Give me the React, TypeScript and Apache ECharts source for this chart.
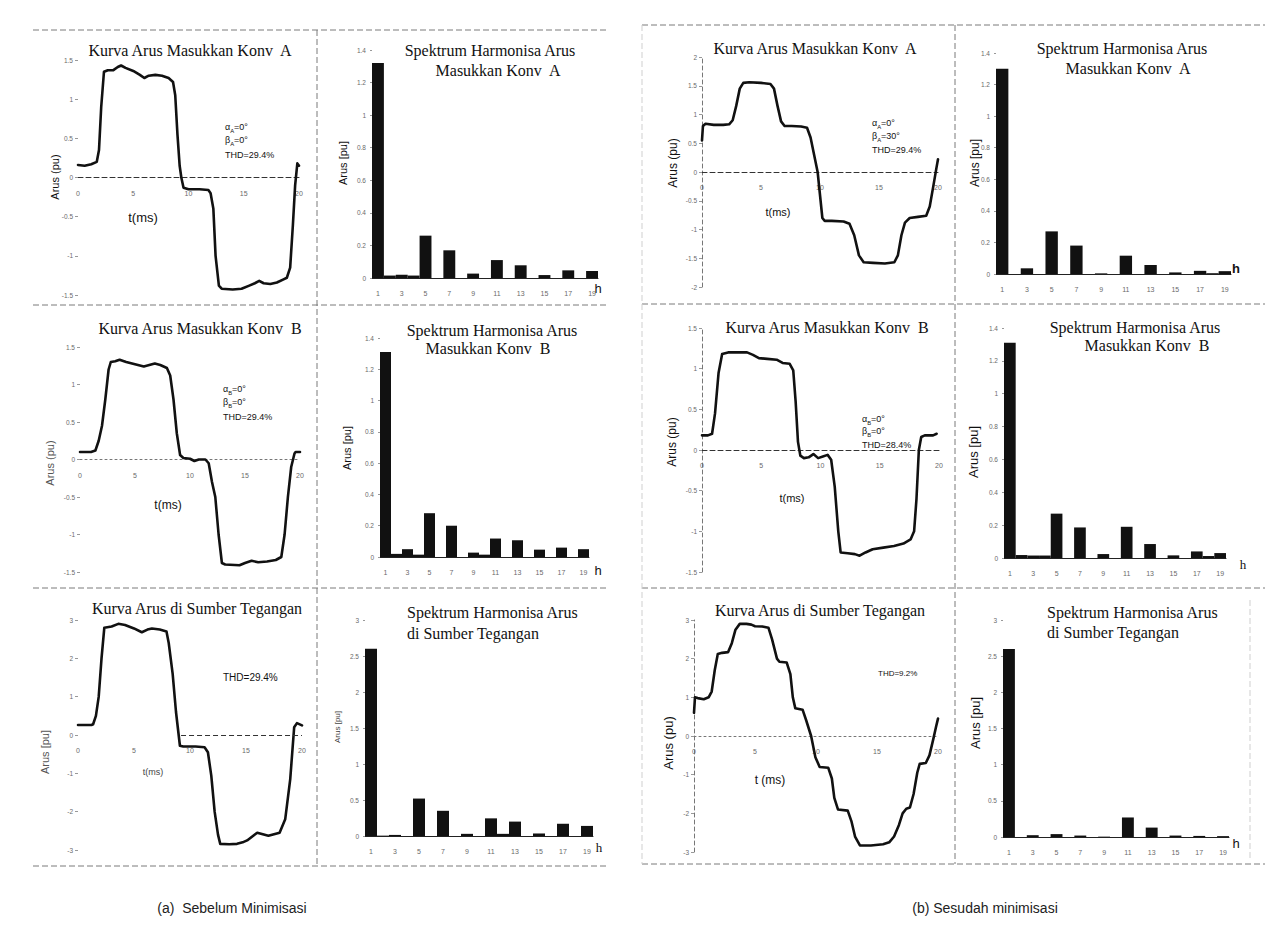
import { useEffect, useRef } from "react";
import * as echarts from "echarts";

// Harmonic orders on the spectrum axes (only odd orders are labelled)
const HARMONICS = ["1", "2", "3", "4", "5", "6", "7", "8", "9", "10", "11", "12", "13", "14", "15", "16", "17", "18", "19"];
const TIME_TICKS = [0, 5, 10, 15, 20];

// Waveforms: [t (ms), arus (pu)]
const iaBefore: [number, number][] = [
  [0, 0.16], [0.6, 0.15], [1.2, 0.17], [1.7, 0.2], [1.9, 0.35], [2.1, 0.9], [2.35, 1.35], [2.7, 1.37], [3.2, 1.37],
  [3.6, 1.41], [3.9, 1.43], [4.3, 1.4], [5.0, 1.36], [5.6, 1.31], [6.0, 1.27], [6.4, 1.3], [7.0, 1.31], [7.6, 1.3],
  [8.2, 1.27], [8.6, 1.22], [8.8, 1.05], [9.0, 0.55], [9.2, 0.15], [9.35, 0.0], [9.55, -0.13], [10.0, -0.15],
  [11.0, -0.15], [11.8, -0.16], [12.0, -0.2], [12.25, -0.4], [12.45, -1.0], [12.75, -1.38], [13.0, -1.42],
  [14.0, -1.43], [14.8, -1.42], [15.5, -1.38], [16.0, -1.35], [16.4, -1.32], [16.8, -1.35], [17.4, -1.36],
  [18.0, -1.34], [18.6, -1.3], [18.9, -1.28], [19.2, -1.15], [19.45, -0.6], [19.65, -0.1], [19.85, 0.18], [20, 0.15],
];
const ibBefore: [number, number][] = [
  [0, 0.1], [1.0, 0.1], [1.4, 0.12], [1.7, 0.25], [2.0, 0.45], [2.3, 0.8], [2.6, 1.2], [2.8, 1.3], [3.2, 1.31],
  [3.6, 1.33], [4.2, 1.3], [5.0, 1.27], [5.8, 1.24], [6.3, 1.26], [6.8, 1.28], [7.3, 1.26], [7.9, 1.22], [8.2, 1.12],
  [8.5, 0.8], [8.8, 0.35], [9.1, 0.06], [9.4, 0.02], [10.0, 0.01], [10.4, -0.02], [10.8, 0.0], [11.4, 0.0],
  [11.7, -0.05], [12.0, -0.3], [12.3, -0.5], [12.6, -1.0], [12.9, -1.38], [13.2, -1.4], [14.5, -1.41], [15.0, -1.38],
  [15.6, -1.35], [16.2, -1.37], [17.0, -1.36], [17.8, -1.34], [18.3, -1.3], [18.6, -1.0], [18.9, -0.5], [19.2, -0.1],
  [19.5, 0.08], [19.6, 0.1], [20, 0.1],
];
const isBefore: [number, number][] = [
  [0, 0.26], [1.2, 0.26], [1.35, 0.28], [1.6, 0.5], [1.85, 1.0], [2.1, 2.0], [2.35, 2.8], [3.0, 2.83], [3.6, 2.9],
  [4.2, 2.87], [5.0, 2.78], [5.7, 2.68], [6.2, 2.75], [6.6, 2.78], [7.3, 2.75], [7.9, 2.7], [8.1, 2.4], [8.45, 1.6],
  [8.75, 0.6], [9.1, -0.28], [9.4, -0.3], [10.5, -0.3], [11.3, -0.32], [11.6, -0.45], [11.9, -1.06], [12.2, -2.0],
  [12.5, -2.6], [12.7, -2.84], [13.5, -2.85], [14.2, -2.84], [14.7, -2.8], [15.1, -2.75], [16.0, -2.55],
  [17.0, -2.63], [18.0, -2.55], [18.5, -2.2], [18.95, -1.15], [19.3, 0.2], [19.55, 0.31], [20, 0.25],
];
const iaAfter: [number, number][] = [
  [0, 0.55], [0.08, 0.8], [0.3, 0.84], [1.0, 0.82], [1.8, 0.82], [2.3, 0.83], [2.6, 0.9], [2.9, 1.15], [3.2, 1.45],
  [3.5, 1.55], [4.0, 1.56], [5.0, 1.55], [5.8, 1.53], [6.1, 1.45], [6.4, 1.15], [6.7, 0.88], [7.0, 0.8], [7.6, 0.8],
  [8.4, 0.79], [8.9, 0.77], [9.2, 0.6], [9.5, 0.3], [9.8, 0.0], [10.0, -0.4], [10.2, -0.8], [10.4, -0.85],
  [11.0, -0.85], [12.0, -0.86], [12.5, -0.9], [12.9, -1.1], [13.3, -1.45], [13.7, -1.57], [14.5, -1.58],
  [15.5, -1.59], [16.3, -1.57], [16.6, -1.45], [16.9, -1.1], [17.2, -0.88], [17.6, -0.8], [18.3, -0.78],
  [19.0, -0.76], [19.3, -0.6], [19.6, -0.25], [19.85, 0.05], [20, 0.22],
];
const ibAfter: [number, number][] = [
  [0, 0.18], [0.5, 0.18], [0.85, 0.2], [1.1, 0.45], [1.4, 0.95], [1.7, 1.18], [2.2, 1.2], [3.0, 1.2], [3.8, 1.2],
  [4.3, 1.17], [4.8, 1.13], [5.5, 1.12], [6.3, 1.11], [6.8, 1.07], [7.4, 1.06], [7.7, 0.98], [7.9, 0.6], [8.1, 0.1],
  [8.3, -0.07], [8.6, -0.1], [9.0, -0.09], [9.4, -0.05], [9.8, -0.1], [10.2, -0.08], [10.6, -0.06], [10.9, -0.12],
  [11.2, -0.45], [11.5, -1.0], [11.7, -1.26], [12.3, -1.27], [12.9, -1.28], [13.3, -1.3], [13.8, -1.26],
  [14.4, -1.22], [15.3, -1.2], [16.2, -1.18], [17.0, -1.15], [17.6, -1.1], [17.9, -1.0], [18.1, -0.6], [18.3, 0.0],
  [18.5, 0.16], [18.8, 0.18], [19.5, 0.18], [19.8, 0.2],
];
const isAfter: [number, number][] = [
  [0, 0.6], [0.08, 1.0], [0.3, 0.98], [0.8, 0.95], [1.2, 1.0], [1.45, 1.15], [1.7, 1.7], [1.95, 2.12], [2.3, 2.15],
  [2.8, 2.17], [3.1, 2.4], [3.4, 2.75], [3.75, 2.9], [4.3, 2.9], [4.7, 2.88], [5.0, 2.84], [5.6, 2.83], [6.1, 2.8],
  [6.4, 2.5], [6.8, 2.0], [7.0, 1.92], [7.6, 1.9], [7.9, 1.6], [8.1, 1.0], [8.3, 0.72], [8.9, 0.68], [9.2, 0.4],
  [9.6, 0.0], [9.95, -0.55], [10.3, -0.8], [11.0, -0.82], [11.3, -1.1], [11.5, -1.6], [11.8, -1.9], [12.6, -1.93],
  [12.9, -2.2], [13.2, -2.6], [13.6, -2.83], [14.5, -2.83], [15.5, -2.8], [16.0, -2.75], [16.4, -2.6], [16.8, -2.3],
  [17.1, -2.0], [17.4, -1.88], [17.7, -1.85], [18.0, -1.5], [18.3, -0.95], [18.5, -0.72], [19.0, -0.7],
  [19.3, -0.5], [19.6, -0.1], [19.85, 0.25], [20, 0.45],
];

// Harmonic spectra, orders 1..19 (pu)
const specIaBefore = [1.32, 0.015, 0.02, 0.015, 0.26, 0, 0.17, 0, 0.027, 0, 0.11, 0, 0.078, 0, 0.018, 0, 0.047, 0, 0.043];
const specIbBefore = [1.31, 0.02, 0.05, 0.015, 0.28, 0, 0.2, 0, 0.028, 0.015, 0.118, 0, 0.107, 0, 0.047, 0, 0.06, 0, 0.05];
const specIsBefore = [2.6, 0.005, 0.015, 0, 0.52, 0, 0.35, 0, 0.03, 0, 0.245, 0.03, 0.2, 0, 0.035, 0, 0.17, 0, 0.14];
const specIaAfter = [1.3, 0, 0.036, 0, 0.27, 0, 0.18, 0, 0.004, 0, 0.116, 0, 0.057, 0, 0.01, 0, 0.02, 0.005, 0.018];
const specIbAfter = [1.31, 0.018, 0.015, 0.015, 0.27, 0, 0.186, 0, 0.024, 0, 0.19, 0, 0.085, 0, 0.016, 0, 0.04, 0.012, 0.03];
const specIsAfter = [2.6, 0, 0.025, 0, 0.04, 0, 0.02, 0, 0.005, 0, 0.27, 0, 0.13, 0, 0.02, 0, 0.015, 0, 0.012];

const SERIF = "'Liberation Serif', 'Times New Roman', serif";
const SANS = "'Liberation Sans', Arial, sans-serif";
const INK = "#111";
const TICK = "#6a6a6a";

type Box = { left: number; top: number; width: number; height: number };

interface WavePanel {
  box: Box;
  data: [number, number][];
  yMin: number;
  yMax: number;
  yStep: number;
  yLine: boolean;
  zeroStyle: any;
  zeroFrom?: number; // zero reference drawn only from this time on
}
interface BarPanel {
  box: Box;
  data: number[];
  yMax: number;
  yStep: number;
}

const ZERO_DASH = { color: "#333", width: 1, type: [5, 3] as number[] };
const ZERO_DOT = { color: "#777", width: 1, type: [2, 3] as number[] };

const wavePanels: WavePanel[] = [
  { box: { left: 78, top: 60, width: 221, height: 235 }, data: iaBefore, yMin: -1.5, yMax: 1.5, yStep: 0.5, yLine: false, zeroStyle: ZERO_DASH },
  { box: { left: 80, top: 347, width: 220, height: 225 }, data: ibBefore, yMin: -1.5, yMax: 1.5, yStep: 0.5, yLine: false, zeroStyle: ZERO_DOT },
  { box: { left: 78, top: 620, width: 224, height: 230 }, data: isBefore, yMin: -3, yMax: 3, yStep: 1, yLine: false, zeroStyle: ZERO_DASH, zeroFrom: 9.2 },
  { box: { left: 702, top: 57, width: 236, height: 230 }, data: iaAfter, yMin: -2, yMax: 2, yStep: 0.5, yLine: true, zeroStyle: ZERO_DASH },
  { box: { left: 702, top: 328, width: 237, height: 244 }, data: ibAfter, yMin: -1.5, yMax: 1.5, yStep: 0.5, yLine: true, zeroStyle: ZERO_DASH },
  { box: { left: 694, top: 620, width: 244, height: 232 }, data: isAfter, yMin: -3, yMax: 3, yStep: 1, yLine: true, zeroStyle: ZERO_DOT },
];

const barPanels: BarPanel[] = [
  { box: { left: 372, top: 50, width: 226, height: 228 }, data: specIaBefore, yMax: 1.4, yStep: 0.2 },
  { box: { left: 380, top: 338, width: 209, height: 219 }, data: specIbBefore, yMax: 1.4, yStep: 0.2 },
  { box: { left: 365, top: 620, width: 228, height: 216 }, data: specIsBefore, yMax: 3, yStep: 0.5 },
  { box: { left: 996, top: 53, width: 235, height: 221 }, data: specIaAfter, yMax: 1.4, yStep: 0.2 },
  { box: { left: 1004, top: 328, width: 222, height: 230 }, data: specIbAfter, yMax: 1.4, yStep: 0.2 },
  { box: { left: 1003, top: 620, width: 226, height: 217 }, data: specIsAfter, yMax: 3, yStep: 0.5 },
];

function text(x: number, y: number, s: string, size: number, family: string, opts: any = {}) {
  return {
    type: "text",
    x,
    y,
    rotation: opts.rotation || 0,
    silent: true,
    style: {
      text: s,
      fill: opts.color || INK,
      fontSize: size,
      fontFamily: family,
      fontWeight: opts.weight || "normal",
      align: opts.align || "center",
      verticalAlign: "middle",
    },
  };
}

function vname(x: number, y: number, s: string, size: number, color = INK) {
  return text(x, y, s, size, SANS, { rotation: Math.PI / 2, color });
}

function angle(x: number, y: number, greek: string, sub: string, value: string, size: number) {
  return {
    type: "text",
    x,
    y,
    silent: true,
    style: {
      text: `{g|${greek}}{s|${sub}}{g|=${value}}`,
      align: "left",
      verticalAlign: "middle",
      rich: {
        g: { fontSize: size, fontFamily: SANS, fill: INK, lineHeight: size + 3, verticalAlign: "top" },
        s: { fontSize: size * 0.65, fontFamily: SANS, fill: INK, lineHeight: size + 3, verticalAlign: "bottom" },
      },
    },
  };
}

function dash(x1: number, y1: number, x2: number, y2: number, color = "#7a7a7a") {
  return {
    type: "line",
    silent: true,
    shape: { x1, y1, x2, y2 },
    style: { stroke: color, lineWidth: 1, lineDash: [6, 3] },
  };
}

function buildOption() {
  const grid: any[] = [];
  const xAxis: any[] = [];
  const yAxis: any[] = [];
  const series: any[] = [];

  wavePanels.forEach((p) => {
    const i = grid.length;
    // lift the time axis (line and labels) up to the zero level of the current axis
    const zeroLift = (p.box.height * (0 - p.yMin)) / (p.yMax - p.yMin);
    grid.push({ ...p.box, containLabel: false });
    xAxis.push({
      gridIndex: i,
      type: "value",
      position: "bottom",
      offset: -zeroLift,
      min: TIME_TICKS[0],
      max: TIME_TICKS[TIME_TICKS.length - 1],
      interval: TIME_TICKS[1] - TIME_TICKS[0],
      axisLine: { show: p.zeroFrom === undefined, onZero: false, lineStyle: p.zeroStyle },
      axisTick: { show: false },
      axisLabel: { fontSize: 7, color: TICK, margin: 12, fontFamily: SANS },
      splitLine: { show: false },
    });
    yAxis.push({
      gridIndex: i,
      type: "value",
      min: p.yMin,
      max: p.yMax,
      interval: p.yStep,
      axisLine: { show: p.yLine, onZero: false, lineStyle: { color: "#777", width: 1, type: [4, 3] } },
      axisTick: { show: true, length: 3, lineStyle: { color: "#999" } },
      axisLabel: { fontSize: 6.5, color: TICK, margin: 5, fontFamily: SANS },
      splitLine: { show: false },
    });
    const s: any = {
      type: "line",
      xAxisIndex: i,
      yAxisIndex: i,
      data: p.data,
      showSymbol: false,
      symbol: "none",
      silent: true,
      lineStyle: { color: INK, width: 2.6, join: "round", cap: "round" },
    };
    if (p.zeroFrom !== undefined) {
      s.markLine = {
        silent: true,
        symbol: "none",
        label: { show: false },
        lineStyle: p.zeroStyle,
        data: [[{ coord: [p.zeroFrom, 0] }, { coord: [TIME_TICKS[TIME_TICKS.length - 1], 0] }]],
      };
    }
    series.push(s);
  });

  barPanels.forEach((p) => {
    const i = grid.length;
    grid.push({ ...p.box, containLabel: false });
    xAxis.push({
      gridIndex: i,
      type: "category",
      data: HARMONICS,
      axisLine: { lineStyle: { color: "#222", width: 1 } },
      axisTick: { show: false },
      axisLabel: { interval: 1, fontSize: 7, color: TICK, margin: 12, fontFamily: SANS },
      splitLine: { show: false },
    });
    yAxis.push({
      gridIndex: i,
      type: "value",
      min: 0,
      max: p.yMax,
      interval: p.yStep,
      axisLine: { show: false },
      axisTick: { show: true, length: 2, lineStyle: { color: "#999" } },
      axisLabel: { fontSize: 6.5, color: TICK, margin: 6, fontFamily: SANS },
      splitLine: { show: false },
    });
    series.push({
      type: "bar",
      xAxisIndex: i,
      yAxisIndex: i,
      data: p.data,
      barWidth: "100%",
      silent: true,
      itemStyle: { color: INK },
    });
  });

  const graphic: any[] = [
    // panel frames, (a)
    dash(33, 30, 608, 30),
    dash(33, 305, 608, 305),
    dash(33, 588, 608, 588),
    dash(33, 866, 608, 866),
    dash(317, 30, 317, 866),
    // panel frames, (b)
    dash(642, 25, 1265, 25),
    dash(642, 304, 1265, 304),
    dash(642, 588, 1265, 588),
    dash(642, 864, 1265, 864),
    dash(955, 25, 955, 864),
    dash(642, 25, 642, 864, "#cfcfcf"),
    dash(1250, 600, 1250, 858, "#cfcfcf"),

    // titles
    text(190, 50, "Kurva Arus Masukkan Konv  A", 16, SERIF),
    text(490, 50, "Spektrum Harmonisa Arus", 16, SERIF),
    text(498, 70, "Masukkan Konv  A", 16, SERIF),
    text(815, 48, "Kurva Arus Masukkan Konv  A", 16, SERIF),
    text(1122, 48, "Spektrum Harmonisa Arus", 16, SERIF),
    text(1128, 68, "Masukkan Konv  A", 16, SERIF),
    text(200, 328, "Kurva Arus Masukkan Konv  B", 16, SERIF),
    text(492, 330, "Spektrum Harmonisa Arus", 16, SERIF),
    text(488, 348, "Masukkan Konv  B", 16, SERIF),
    text(827, 327, "Kurva Arus Masukkan Konv  B", 16, SERIF),
    text(1135, 327, "Spektrum Harmonisa Arus", 16, SERIF),
    text(1147, 345, "Masukkan Konv  B", 16, SERIF),
    text(197, 608, "Kurva Arus di Sumber Tegangan", 16, SERIF),
    text(407, 612, "Spektrum Harmonisa Arus", 16, SERIF, { align: "left" }),
    text(407, 633, "di Sumber Tegangan", 16, SERIF, { align: "left" }),
    text(820, 610, "Kurva Arus di Sumber Tegangan", 16, SERIF),
    text(1047, 612, "Spektrum Harmonisa Arus", 16, SERIF, { align: "left" }),
    text(1047, 632, "di Sumber Tegangan", 16, SERIF, { align: "left" }),

    // vertical axis names
    vname(55, 177, "Arus (pu)", 11),
    vname(50, 463, "Arus (pu)", 11, "#555"),
    vname(45, 752, "Arus [pu]", 11, "#555"),
    vname(673, 163, "Arus (pu)", 12),
    vname(672, 442, "Arus (pu)", 12),
    vname(668, 743, "Arus (pu)", 13),
    vname(343, 163, "Arus [pu]", 11),
    vname(347, 448, "Arus [pu]", 11),
    vname(337, 727, "Arus [pu]", 8, "#444"),
    vname(975, 163, "Arus [pu]", 12),
    vname(973, 452, "Arus [pu]", 13),
    vname(975, 723, "Arus [pu]", 13),

    // time axis names
    text(143, 217, "t(ms)", 13, SANS),
    text(168, 505, "t(ms)", 12, SANS),
    text(153, 772, "t(ms)", 9, SANS, { color: "#444" }),
    text(778, 212, "t(ms)", 11, SANS),
    text(792, 498, "t(ms)", 11, SANS),
    text(770, 780, "t (ms)", 12, SANS),

    // harmonic order marks
    text(598, 288, "h", 13, SANS),
    text(598, 570, "h", 13, SANS),
    text(599, 847, "h", 13, SERIF),
    text(1236, 268, "h", 13, SANS, { weight: "bold" }),
    text(1243, 564, "h", 13, SERIF),
    text(1236, 843, "h", 13, SANS),

    // operating point notes
    angle(225, 128, "α", "A", "0°", 9),
    angle(225, 141, "β", "A", "0°", 9),
    text(225, 155, "THD=29.4%", 9, SANS, { align: "left" }),
    angle(223, 390, "α", "B", "0°", 9),
    angle(223, 403, "β", "B", "0°", 9),
    text(223, 417, "THD=29.4%", 9, SANS, { align: "left" }),
    text(223, 677, "THD=29.4%", 10, SANS, { align: "left" }),
    angle(872, 124, "α", "A", "0°", 9),
    angle(872, 137, "β", "A", "30°", 9),
    text(872, 150, "THD=29.4%", 9, SANS, { align: "left" }),
    angle(862, 420, "α", "B", "0°", 9),
    angle(862, 432, "β", "B", "0°", 9),
    text(862, 445, "THD=28.4%", 9, SANS, { align: "left" }),
    text(878, 673, "THD=9.2%", 8, SANS, { align: "left" }),

    // captions
    text(232, 908, "(a)  Sebelum Minimisasi", 14, SANS, { color: "#222" }),
    text(985, 908, "(b) Sesudah minimisasi", 14, SANS, { color: "#222" }),
  ];

  return {
    animation: false,
    backgroundColor: "#ffffff",
    grid,
    xAxis,
    yAxis,
    series,
    graphic,
  };
}

export default function App() {
  const ref = useRef<HTMLDivElement>(null);

  useEffect(() => {
    if (!ref.current) return;
    const chart = echarts.init(ref.current, undefined, { renderer: "svg" });
    chart.setOption(buildOption());
    return () => chart.dispose();
  }, []);

  return (
    <div
      ref={ref}
      style={{ position: "absolute", left: 0, top: 0, width: 1274, height: 931, background: "#fff" }}
    />
  );
}
